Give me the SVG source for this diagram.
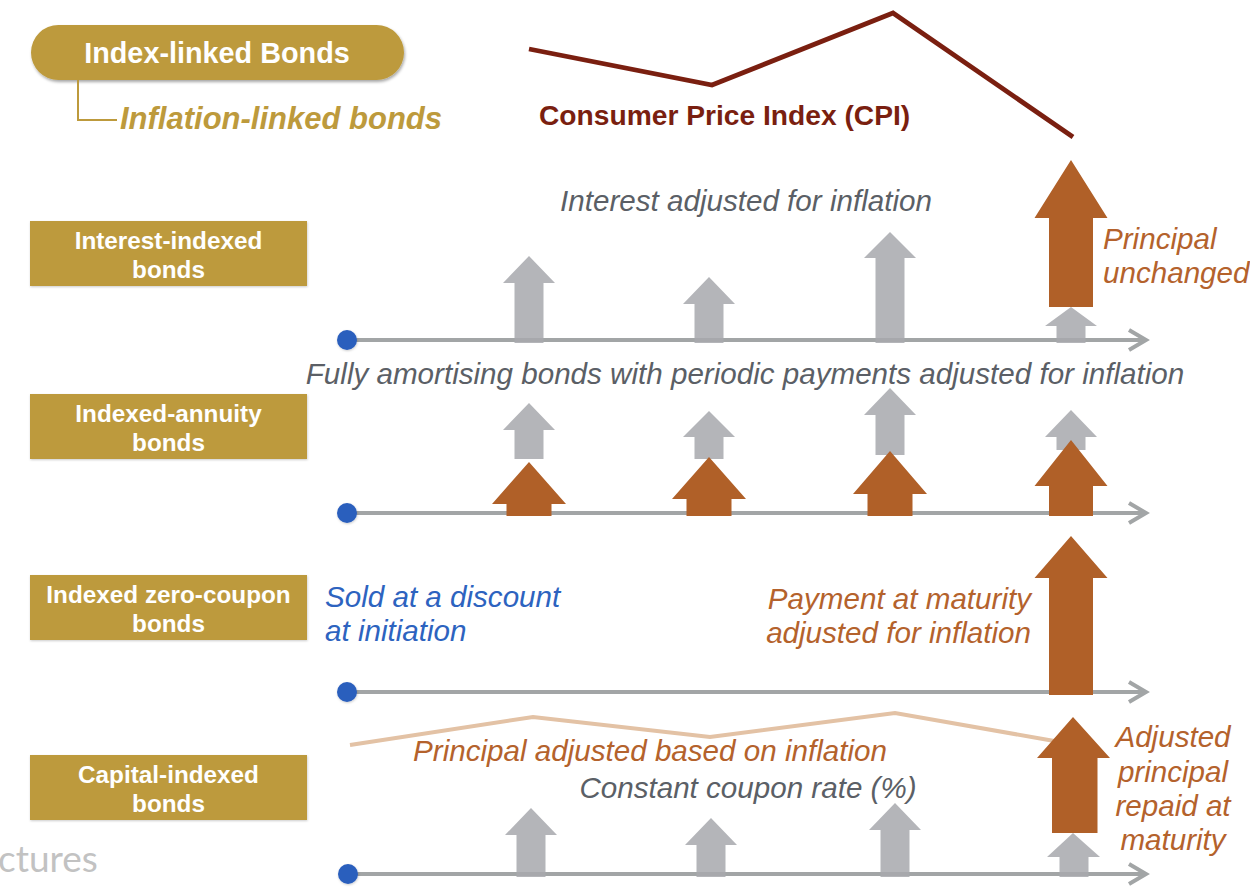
<svg xmlns="http://www.w3.org/2000/svg" width="1250" height="894" viewBox="0 0 1250 894">
  <style>
    .box { fill: #BD9A3C; }
    .boxtxt { font-family: "Liberation Sans", Arial, sans-serif; font-weight: bold; font-size: 24.3px; fill: #ffffff; text-anchor: middle; }
    .it { font-family: "Liberation Sans", Arial, sans-serif; font-style: italic; font-size: 29.6px; }
    .grey { fill: #5B5F66; }
    .orange { fill: #B4622C; }
    .blue { fill: #2D63BF; }
    .ga { fill: #A8A9AD; fill-opacity: 0.86; }
    .oa { fill: #B06028; }
    .tl { stroke: #A2A5A6; stroke-width: 4; fill: none; }
    .dot { fill: #2A5EBD; }
  </style>
  <defs>
    <filter id="shadow" x="-10%" y="-20%" width="125%" height="150%">
      <feDropShadow dx="1" dy="2" stdDeviation="1.5" flood-color="#000" flood-opacity="0.35"/>
    </filter>
    <filter id="soft" x="-10%" y="-10%" width="130%" height="130%">
      <feDropShadow dx="0.5" dy="1" stdDeviation="1" flood-color="#000" flood-opacity="0.2"/>
    </filter>
    <filter id="blur"><feGaussianBlur stdDeviation="1.2"/></filter>
    <marker id="chev" markerUnits="userSpaceOnUse" markerWidth="24" markerHeight="26" refX="19" refY="12" orient="auto">
      <polyline points="2,2 19,12 2,22" fill="none" stroke="#A2A5A6" stroke-width="4"/>
    </marker>
  </defs>

  <rect width="1250" height="894" fill="#ffffff"/>

  <!-- faint card edge on the left -->
  <line x1="1.5" y1="95" x2="1.5" y2="690" stroke="#cfcfcf" stroke-width="3" filter="url(#blur)"/>

  <!-- partial logo word -->
  <text x="-2" y="872" font-family="Lato, 'Open Sans', sans-serif" font-size="37" fill="#c2c2c2">ctures</text>

  <!-- heading -->
  <g id="title">
    <rect x="31" y="25" width="373" height="55" rx="27.5" class="box" filter="url(#shadow)"/>
    <text x="217" y="63" font-family="'Liberation Sans', Arial, sans-serif" font-weight="bold" font-size="28.8" fill="#fff" text-anchor="middle">Index-linked Bonds</text>
  </g>
  <g id="subtitle">
    <polyline points="78,80 78,120 117,120" fill="none" stroke="#BD9A3C" stroke-width="2"/>
    <text x="120" y="129" font-family="'Liberation Sans', Arial, sans-serif" font-weight="bold" font-style="italic" font-size="31" fill="#BD9A3C">Inflation-linked bonds</text>
  </g>

  <!-- CPI curve -->
  <g id="cpi">
    <polyline points="529,49 712,85 893,13 1073,137" fill="none" stroke="#7A1F10" stroke-width="4.8"/>
    <text x="539" y="125" font-family="'Liberation Sans', Arial, sans-serif" font-weight="bold" font-size="28.2" fill="#7A1F10">Consumer Price Index (CPI)</text>
  </g>

  <!-- category labels -->
  <g id="label-interest">
    <rect x="30" y="221" width="277" height="65" class="box" filter="url(#soft)"/>
    <text x="168.5" y="249" class="boxtxt">Interest-indexed</text>
    <text x="168.5" y="278" class="boxtxt">bonds</text>
  </g>
  <g id="label-annuity">
    <rect x="30" y="394" width="277" height="65" class="box" filter="url(#soft)"/>
    <text x="168.5" y="422" class="boxtxt">Indexed-annuity</text>
    <text x="168.5" y="451" class="boxtxt">bonds</text>
  </g>
  <g id="label-zero">
    <rect x="30" y="575" width="277" height="65" class="box" filter="url(#soft)"/>
    <text x="168.5" y="603" class="boxtxt">Indexed zero-coupon</text>
    <text x="168.5" y="632" class="boxtxt">bonds</text>
  </g>
  <g id="label-capital">
    <rect x="30" y="755" width="277" height="65" class="box" filter="url(#soft)"/>
    <text x="168.5" y="783" class="boxtxt">Capital-indexed</text>
    <text x="168.5" y="812" class="boxtxt">bonds</text>
  </g>

  <!-- timelines (drawn beneath the payment arrows) -->
  <g id="timelines">
    <line class="tl" x1="347" y1="340" x2="1146" y2="340" marker-end="url(#chev)"/>
    <line class="tl" x1="347" y1="513" x2="1146" y2="513" marker-end="url(#chev)"/>
    <line class="tl" x1="347" y1="692" x2="1146" y2="692" marker-end="url(#chev)"/>
    <line class="tl" x1="347" y1="874" x2="1146" y2="874" marker-end="url(#chev)"/>
    <circle class="dot" cx="347" cy="340" r="10" filter="url(#soft)"/>
    <circle class="dot" cx="347" cy="513" r="10" filter="url(#soft)"/>
    <circle class="dot" cx="347" cy="692" r="10" filter="url(#soft)"/>
    <circle class="dot" cx="348" cy="874" r="10" filter="url(#soft)"/>
  </g>

  <!-- row 1: interest-indexed -->
  <g id="row-interest">
    <text x="746" y="211" class="it grey" text-anchor="middle">Interest adjusted for inflation</text>
    <polygon class="ga" points="529,256 555,283 543.5,283 543.5,343 514.5,343 514.5,283 503,283"/>
    <polygon class="ga" points="709,277 735,304 723.5,304 723.5,343 694.5,343 694.5,304 683,304"/>
    <polygon class="ga" points="890,232 916,258 904.5,258 904.5,343 875.5,343 875.5,258 864,258"/>
    <polygon class="ga" points="1071,307 1097,326 1085.5,326 1085.5,343 1056.5,343 1056.5,326 1045,326"/>
    <polygon class="oa" points="1071,160 1107.5,218 1093,218 1093,307 1049,307 1049,218 1034.5,218"/>
    <text x="1103" y="249" class="it orange">Principal</text>
    <text x="1103" y="283" class="it orange">unchanged</text>
  </g>

  <!-- row 2: indexed-annuity -->
  <g id="row-annuity">
    <text x="745" y="384" class="it grey" text-anchor="middle">Fully amortising bonds with periodic payments adjusted for inflation</text>
    <polygon class="ga" points="529,403 555,430 543.5,430 543.5,459 514.5,459 514.5,430 503,430"/>
    <polygon class="ga" points="709,411 735,437 723.5,437 723.5,459 694.5,459 694.5,437 683,437"/>
    <polygon class="ga" points="890,388 916,415 904.5,415 904.5,455 875.5,455 875.5,415 864,415"/>
    <polygon class="ga" points="1071,410 1097,437 1085.5,437 1085.5,450 1056.5,450 1056.5,437 1045,437"/>
    <polygon class="oa" points="529,462 566,504 551.5,504 551.5,516 506.5,516 506.5,504 492,504"/>
    <polygon class="oa" points="709,457 746,499 731.5,499 731.5,516 686.5,516 686.5,499 672,499"/>
    <polygon class="oa" points="890,451 927,494 912.5,494 912.5,516 867.5,516 867.5,494 853,494"/>
    <polygon class="oa" points="1071,440 1107.5,486 1093,486 1093,516 1049,516 1049,486 1034.5,486"/>
  </g>

  <!-- row 3: zero-coupon -->
  <g id="row-zero">
    <text x="325" y="607" class="it blue">Sold at a discount</text>
    <text x="325" y="641" class="it blue">at initiation</text>
    <text x="1031" y="609" class="it orange" text-anchor="end">Payment at maturity</text>
    <text x="1031" y="643" class="it orange" text-anchor="end">adjusted for inflation</text>
    <polygon class="oa" points="1071,536 1107.5,578 1093,578 1093,695 1049,695 1049,578 1034.5,578"/>
  </g>

  <!-- row 4: capital-indexed -->
  <g id="row-capital">
    <polyline points="350,745 533,717 710,737 895,713 1060,742" fill="none" stroke="#E3C2A5" stroke-width="4"/>
    <text x="650" y="761" class="it orange" text-anchor="middle">Principal adjusted based on inflation</text>
    <text x="748" y="798" class="it grey" text-anchor="middle">Constant coupon rate (%)</text>
    <polygon class="ga" points="531,808 557,835 545.5,835 545.5,877 516.5,877 516.5,835 505,835"/>
    <polygon class="ga" points="711,818 737,845 725.5,845 725.5,877 696.5,877 696.5,845 685,845"/>
    <polygon class="ga" points="895,803 921,830 909.5,830 909.5,877 880.5,877 880.5,830 869,830"/>
    <polygon class="ga" points="1073,833 1100,857 1088.5,857 1088.5,877 1059.5,877 1059.5,857 1047,857"/>
    <polygon class="oa" points="1073,717 1110,758 1097.5,758 1097.5,833 1052,833 1052,758 1037,758"/>
    <text x="1173" y="747" class="it orange" text-anchor="middle">Adjusted</text>
    <text x="1173" y="782" class="it orange" text-anchor="middle">principal</text>
    <text x="1173" y="816" class="it orange" text-anchor="middle">repaid at</text>
    <text x="1173" y="850" class="it orange" text-anchor="middle">maturity</text>
  </g>
</svg>
